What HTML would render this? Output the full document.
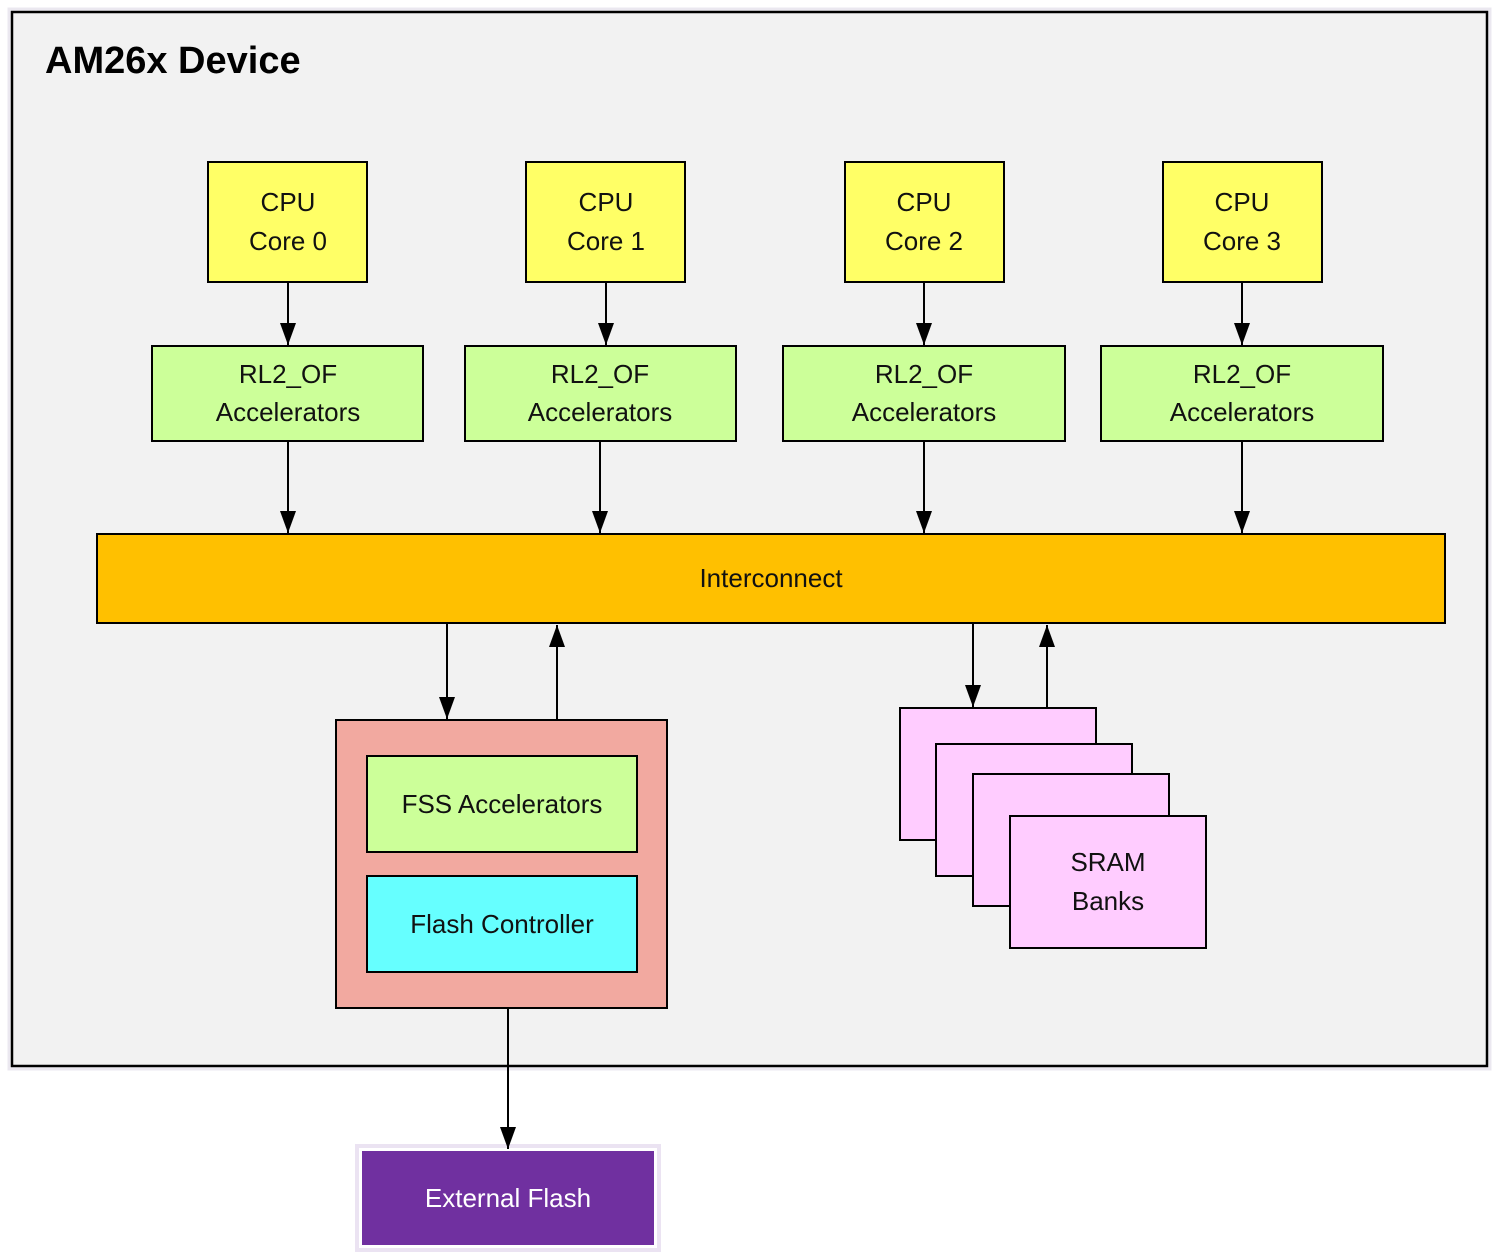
<!DOCTYPE html>
<html><head><meta charset="utf-8"><style>
html,body{margin:0;padding:0;background:#fff;}
svg{display:block;}
text{font-family:"Liberation Sans",sans-serif;font-size:26px;fill:#111;}
</style></head><body>
<svg width="1500" height="1259" viewBox="0 0 1500 1259" xmlns="http://www.w3.org/2000/svg">
<defs>
<marker id="a" viewBox="0 0 22 16" refX="22" refY="8" markerWidth="22" markerHeight="16" markerUnits="userSpaceOnUse" orient="auto"><path d="M0,0 L22,8 L0,16 z" fill="#000"/></marker>
</defs>
<rect x="9" y="9" width="1481" height="1060" fill="none" stroke="#ebe8f0" stroke-width="3"/>
<rect x="12" y="12" width="1475" height="1054" fill="#f2f2f2" stroke="#000" stroke-width="2.5"/>
<text x="45" y="73" style="font-size:38px;font-weight:bold;fill:#000">AM26x Device</text>
<g stroke="#000" stroke-width="2">
<rect x="208" y="162" width="159" height="120" fill="#ffff66"/>
<rect x="526" y="162" width="159" height="120" fill="#ffff66"/>
<rect x="845" y="162" width="159" height="120" fill="#ffff66"/>
<rect x="1163" y="162" width="159" height="120" fill="#ffff66"/>
<rect x="152" y="346" width="271" height="95" fill="#ccff99"/>
<rect x="465" y="346" width="271" height="95" fill="#ccff99"/>
<rect x="783" y="346" width="282" height="95" fill="#ccff99"/>
<rect x="1101" y="346" width="282" height="95" fill="#ccff99"/>
<rect x="97" y="534" width="1348" height="89" fill="#ffc000"/>
<rect x="336" y="720" width="331" height="288" fill="#f2a9a0"/>
<rect x="367" y="756" width="270" height="96" fill="#ccff99"/>
<rect x="367" y="876" width="270" height="96" fill="#66ffff"/>
<rect x="900" y="708" width="196" height="132" fill="#ffccff"/>
<rect x="936" y="744" width="196" height="132" fill="#ffccff"/>
<rect x="973" y="774" width="196" height="132" fill="#ffccff"/>
<rect x="1010" y="816" width="196" height="132" fill="#ffccff"/>
</g>
<rect x="357" y="1146" width="302" height="104" fill="none" stroke="#ebe3f2" stroke-width="4"/>
<rect x="361" y="1150" width="294" height="96" fill="#7030a0" stroke="#fff" stroke-width="2"/>
<g stroke="#000" stroke-width="2" marker-end="url(#a)">
<line x1="288" y1="282" x2="288" y2="345"/>
<line x1="606" y1="282" x2="606" y2="345"/>
<line x1="924" y1="282" x2="924" y2="345"/>
<line x1="1242" y1="282" x2="1242" y2="345"/>
<line x1="288" y1="441" x2="288" y2="533"/>
<line x1="600" y1="441" x2="600" y2="533"/>
<line x1="924" y1="441" x2="924" y2="533"/>
<line x1="1242" y1="441" x2="1242" y2="533"/>
<line x1="447" y1="623" x2="447" y2="719"/>
<line x1="557" y1="720" x2="557" y2="625"/>
<line x1="973" y1="623" x2="973" y2="707"/>
<line x1="1047" y1="708" x2="1047" y2="625"/>
<line x1="508" y1="1008" x2="508" y2="1149"/>
</g>
<g text-anchor="middle">
<text x="288" y="211">CPU</text><text x="288" y="250">Core 0</text>
<text x="606" y="211">CPU</text><text x="606" y="250">Core 1</text>
<text x="924" y="211">CPU</text><text x="924" y="250">Core 2</text>
<text x="1242" y="211">CPU</text><text x="1242" y="250">Core 3</text>
<text x="288" y="383">RL2_OF</text><text x="288" y="421">Accelerators</text>
<text x="600" y="383">RL2_OF</text><text x="600" y="421">Accelerators</text>
<text x="924" y="383">RL2_OF</text><text x="924" y="421">Accelerators</text>
<text x="1242" y="383">RL2_OF</text><text x="1242" y="421">Accelerators</text>
<text x="771" y="587">Interconnect</text>
<text x="502" y="813">FSS Accelerators</text>
<text x="502" y="933">Flash Controller</text>
<text x="1108" y="871">SRAM</text><text x="1108" y="910">Banks</text>
<text x="508" y="1207" style="fill:#fff">External Flash</text>
</g>
</svg>
</body></html>
